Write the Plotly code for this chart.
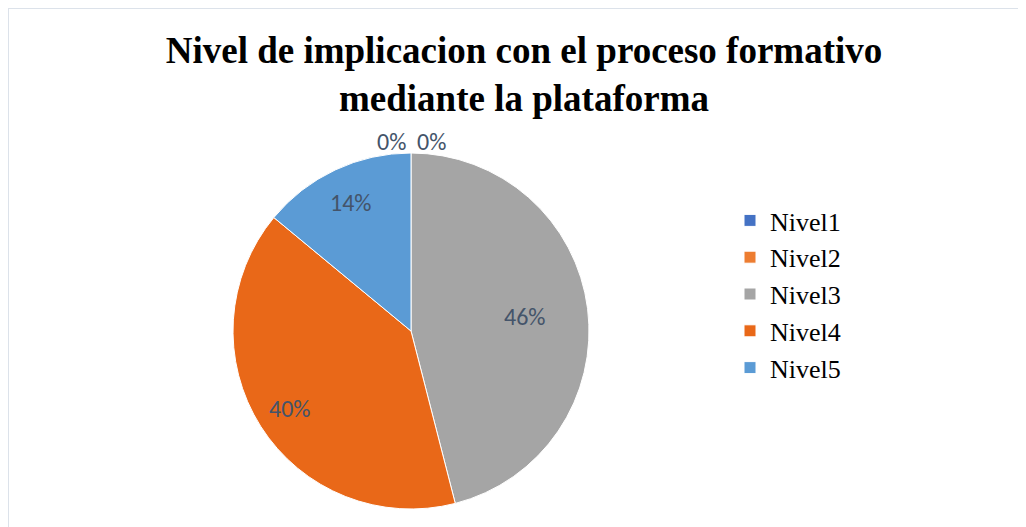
import math
import plotly.graph_objects as go

categories = ["Nivel1", "Nivel2", "Nivel3", "Nivel4", "Nivel5"]
values = [0, 0, 46, 40, 14]
colors = ["#4472C4", "#ED7D31", "#A5A5A5", "#E96818", "#5B9BD5"]
title_text = "Nivel de implicacion con el proceso formativo<br>mediante la plataforma"

# style: radial placement of each percentage label (fraction of radius, Excel "best fit")
label_radius = [None, None, 0.64, 0.81, 0.80]

W, H = 1026, 527
# page body has an 8px margin: figure pixel = screen pixel - 8
cx, cy, r = 403, 323, 178
dom_x = [(cx - r) / W, (cx + r) / W]
dom_y = [1 - (cy + r) / H, 1 - (cy - r) / H]

total = sum(values)
label_font = dict(family="Carlito, Calibri, Lato, sans-serif", size=24, color="#44546A")

fig = go.Figure(go.Pie(
    labels=categories,
    values=values,
    sort=False,
    direction="clockwise",
    rotation=0,
    marker=dict(colors=colors, line=dict(color="white", width=1)),
    textinfo="none",
    domain=dict(x=dom_x, y=dom_y),
    showlegend=True,
    hoverinfo="label+percent",
))

annotations = []
cum = 0.0
zero_idx = [i for i, v in enumerate(values) if v == 0]
for i, v in enumerate(values):
    frac = v / total
    if v == 0:
        k = zero_idx.index(i)
        offset = (k - (len(zero_idx) - 1) / 2) * 40
        px, py = cx + offset, cy - r - 12
    else:
        mid = (cum + frac / 2) * 2 * math.pi  # clockwise from 12 o'clock
        d = label_radius[i] * r
        px, py = cx + d * math.sin(mid), cy - d * math.cos(mid)
    cum += frac
    annotations.append(dict(
        x=px / W, y=1 - py / H, xref="paper", yref="paper",
        text=f"{frac:.0%}", showarrow=False,
        xanchor="center", yanchor="middle", font=label_font,
    ))

fig.update_layout(
    width=W, height=H,
    margin=dict(l=0, r=0, t=0, b=0),
    paper_bgcolor="white",
    plot_bgcolor="white",
    title=dict(
        text="<b>" + title_text + "</b>",
        x=516 / W, xanchor="center", y=1 - 55 / H, yanchor="middle",
        font=dict(family="Liberation Serif, Times New Roman, serif", size=37, color="black"),
    ),
    legend=dict(
        x=722 / W, xanchor="left", y=1 - 189 / H, yanchor="top",
        font=dict(family="Liberation Serif, Times New Roman, serif", size=26, color="black"),
        itemwidth=30,
        bgcolor="rgba(0,0,0,0)",
    ),
    annotations=annotations,
    shapes=[dict(type="rect", xref="paper", yref="paper",
                 x0=0, x1=1.01, y0=-0.01, y1=1,
                 line=dict(color="#DCE2EA", width=2))],
)

fig.write_html("out.html")
